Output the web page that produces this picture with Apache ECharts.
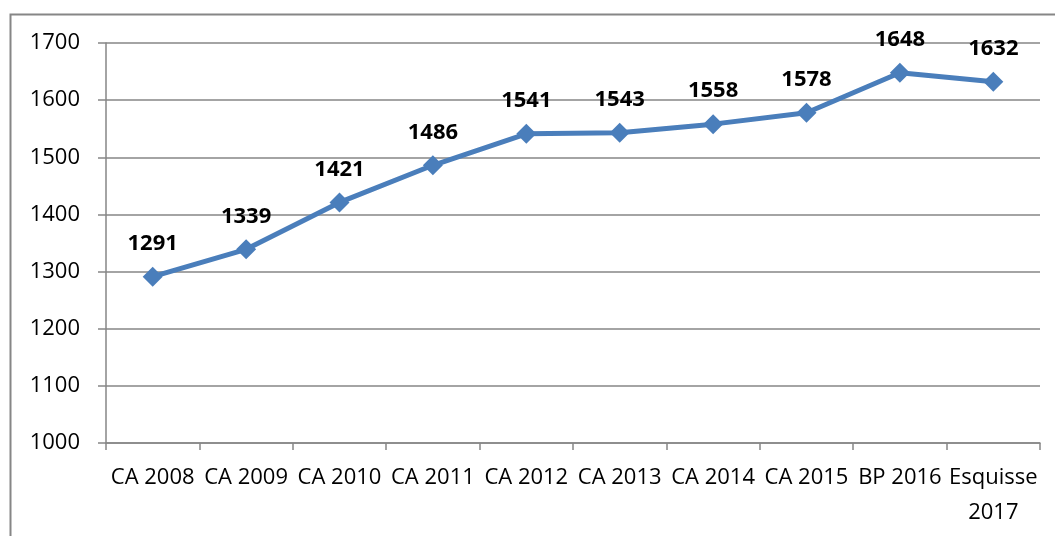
<!DOCTYPE html>
<html>
<head>
<meta charset="utf-8">
<script src="https://cdn.jsdelivr.net/npm/echarts@6/dist/echarts.min.js"></script>
<style>
  html, body { margin: 0; padding: 0; background: #fff; }
  #chart { width: 1055px; height: 536px; }
</style>
</head>
<body>
<div id="chart"></div>
<script>
// Budget totals per year (CA = compte administratif, BP = budget primitif)
const categories = ['CA 2008', 'CA 2009', 'CA 2010', 'CA 2011', 'CA 2012', 'CA 2013', 'CA 2014', 'CA 2015', 'BP 2016', 'Esquisse\n2017'];
const values = [1291, 1339, 1421, 1486, 1541, 1543, 1558, 1578, 1648, 1632];
const yMin = 1000;
const yMax = 1700;
const yStep = 100;

const FONT = '"Open Sans", "Noto Sans", sans-serif';
const chart = echarts.init(document.getElementById('chart'), null, { renderer: 'canvas' });

chart.setOption({
  animation: false,
  backgroundColor: '#ffffff',
  graphic: [{
    type: 'rect',
    shape: { x: 10.5, y: 14.5, width: 1100, height: 600 },
    style: { fill: 'none', stroke: '#868686', lineWidth: 2 },
    silent: true
  }],
  grid: { left: 106, right: 15, top: 43, bottom: 93, containLabel: false },
  xAxis: {
    type: 'category',
    data: categories,
    boundaryGap: true,
    axisLine: { lineStyle: { color: '#868686', width: 1.5 } },
    axisTick: { show: true, length: 7, alignWithLabel: false, lineStyle: { color: '#868686', width: 1.5 } },
    axisLabel: {
      color: '#000', fontFamily: FONT, fontSize: 22, margin: 17, lineHeight: 35, interval: 0
    }
  },
  yAxis: {
    type: 'value',
    min: yMin, max: yMax, interval: yStep,
    axisLine: { show: true, lineStyle: { color: '#868686', width: 1.5 } },
    axisTick: { show: true, length: 8, lineStyle: { color: '#868686', width: 1.5 } },
    splitLine: { show: true, lineStyle: { color: '#868686', width: 1.5 } },
    axisLabel: {
      color: '#000', fontFamily: FONT, fontSize: 22, margin: 26,
      formatter: v => String(v)
    }
  },
  series: [{
    type: 'line',
    data: values,
    symbol: 'diamond',
    symbolSize: 20,
    lineStyle: { color: '#4A7EBB', width: 5 },
    itemStyle: { color: '#4A7EBB' },
    label: {
      show: true, position: 'top', distance: 12,
      color: '#000', fontFamily: FONT, fontSize: 22, fontWeight: 'bold'
    }
  }]
});
</script>
</body>
</html>
